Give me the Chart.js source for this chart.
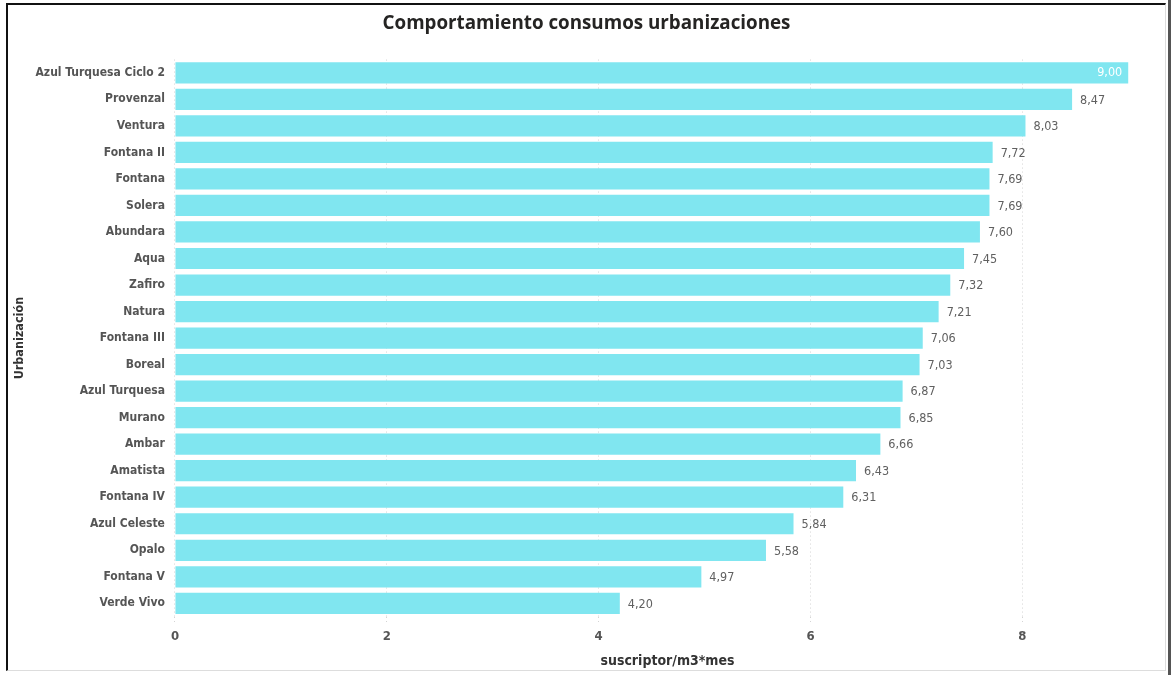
<!DOCTYPE html>
<html>
<head>
<meta charset="utf-8">
<script src="https://cdn.jsdelivr.net/npm/chart.js@4.4.1/dist/chart.umd.min.js"></script>
<style>
  html, body { margin: 0; padding: 0; background: #fff; }
  body { width: 1171px; height: 675px; position: relative; overflow: hidden; }
  #frame { position: absolute; left: 6px; top: 3px; width: 1160px; height: 668px;
           border-left: 2px solid #111; border-top: 2px solid #111; border-right: 1px solid #ddd; border-bottom: 1px solid #ddd; box-sizing: border-box; }
  #rightedge { position: absolute; left: 1168px; top: 0; width: 3px; height: 675px; background: #555; }
  #wrap { position: absolute; left: 0; top: 0; width: 1171px; height: 675px; }
</style>
</head>
<body>
<div id="frame"></div>
<div id="rightedge"></div>
<div id="wrap"><canvas id="c" width="1171" height="675"></canvas></div>
<script>
const categories = ["Azul Turquesa Ciclo 2","Provenzal","Ventura","Fontana II","Fontana","Solera","Abundara","Aqua","Zafiro","Natura","Fontana III","Boreal","Azul Turquesa","Murano","Ambar","Amatista","Fontana IV","Azul Celeste","Opalo","Fontana V","Verde Vivo"];
const values = [9.00,8.47,8.03,7.72,7.69,7.69,7.60,7.45,7.32,7.21,7.06,7.03,6.87,6.85,6.66,6.43,6.31,5.84,5.58,4.97,4.20];
const xTicks = [0,2,4,6,8];
const titleText = "Comportamiento consumos urbanizaciones";
const xTitle = "suscriptor/m3*mes";
const yTitle = "Urbanización";

const fmt = v => v.toFixed(2).replace('.', ',');
const FONT = "'DejaVu Sans Condensed', 'Liberation Sans Narrow', sans-serif";
const maxVal = Math.max(...values);

const labelPlugin = {
  id: 'valLabels',
  afterDatasetsDraw(chart) {
    const ctx = chart.ctx;
    const meta = chart.getDatasetMeta(0);
    ctx.save();
    ctx.font = "12.5px " + FONT;
    ctx.textBaseline = 'middle';
    meta.data.forEach((bar, i) => {
      const v = values[i];
      const txt = fmt(v);
      if (v === maxVal) {
        ctx.fillStyle = '#ffffff';
        ctx.textAlign = 'right';
        ctx.fillText(txt, bar.x - 6, bar.y);
      } else {
        ctx.fillStyle = '#606060';
        ctx.textAlign = 'left';
        ctx.fillText(txt, bar.x + 8, bar.y + 1);
      }
    });
    ctx.restore();
  }
};

new Chart(document.getElementById('c'), {
  type: 'bar',
  data: {
    labels: categories,
    datasets: [{
      data: values,
      backgroundColor: '#80E6F0',
      barPercentage: 0.8,
      categoryPercentage: 1.0
    }]
  },
  options: {
    indexAxis: 'y',
    responsive: false,
    animation: false,
    layout: { padding: { left: 13, right: 11, top: 4, bottom: 5 } },
    plugins: {
      legend: { display: false },
      tooltip: { enabled: false },
      title: {
        display: true, text: titleText, color: '#252423',
        font: { family: "'Open Sans', sans-serif", size: 18.8, weight: 'bold' },
        padding: { top: 8, bottom: 25 }
      }
    },
    scales: {
      x: {
        min: 0, max: 9.3,
        afterBuildTicks: s => { s.ticks = xTicks.map(v => ({ value: v })); },
        grid: { display: true, color: '#d4d4d4', lineWidth: 1, drawTicks: true, tickLength: 7, tickColor: '#d4d4d4', tickBorderDash: [1,3] },
        border: { display: false, dash: [1,3] },
        ticks: { color: '#555555', padding: 5, font: { family: FONT, size: 13, weight: 'bold' }, callback: v => String(v) },
        title: { display: true, text: xTitle, color: '#333333', padding: { top: 4, bottom: 0 }, font: { family: FONT, size: 14, weight: 'bold' } }
      },
      y: {
        grid: { display: false, drawTicks: false },
        border: { display: false },
        ticks: { color: '#555555', padding: 10, autoSkip: false, font: { family: FONT, size: 12, weight: 'bold' } },
        title: { display: true, text: yTitle, color: '#333333', padding: { top: 0, bottom: 0 }, font: { family: FONT, size: 12.5, weight: 'bold', lineHeight: 1.0 } }
      }
    }
  },
  plugins: [labelPlugin]
});
</script>
</body>
</html>
